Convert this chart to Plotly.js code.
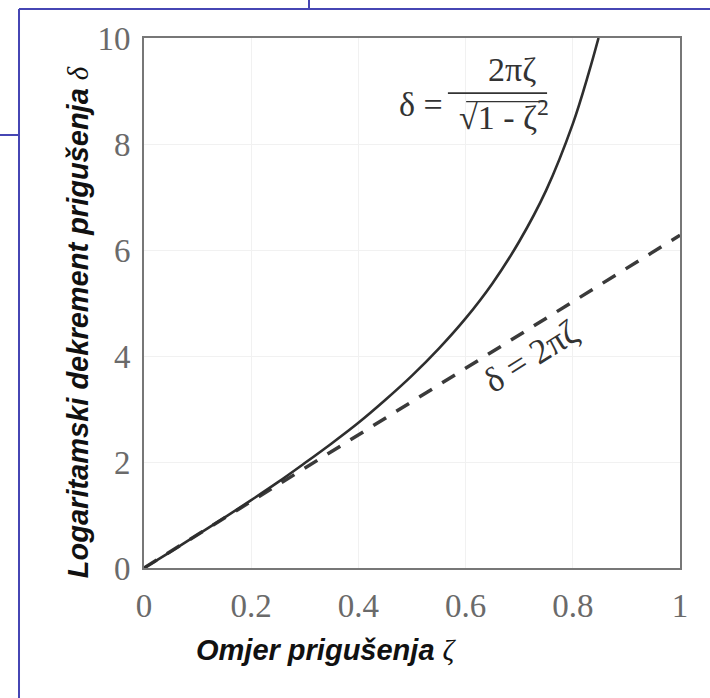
<!DOCTYPE html>
<html>
<head>
<meta charset="utf-8">
<script src="https://cdn.plot.ly/plotly-3.0.1.min.js"></script>
<style>html,body{margin:0;padding:0;background:#fff;}#chart{width:710px;height:698px;}</style>
</head>
<body>
<div id="chart"></div>
<script>
// Values
const zetaSolid  = [0, 0.05, 0.1, 0.15, 0.2, 0.25, 0.3, 0.35, 0.4, 0.45, 0.5, 0.55, 0.6, 0.65, 0.7, 0.75, 0.8, 0.83, 0.848];
const deltaSolid = [0, 0.31, 0.63, 0.95, 1.28, 1.62, 1.98, 2.35, 2.74, 3.17, 3.63, 4.14, 4.71, 5.37, 6.16, 7.12, 8.38, 9.35, 10.0];
const zetaDashed  = [0, 1];
const deltaDashed = [0, 6.28];
const xTickVals = [0, 0.2, 0.4, 0.6, 0.8, 1];
const xTickText = ["0", "0.2", "0.4", "0.6", "0.8", "1"];
const yTickVals = [0, 2, 4, 6, 8, 10];
const yTickText = ["0", "2", "4", "6", "8", "10"];

const serif = "'Liberation Serif', 'Times New Roman', serif";
const sans = "'Liberation Sans', Arial, sans-serif";

const traces = [
  {x: zetaDashed, y: deltaDashed, mode: 'lines', type: 'scatter',
   line: {color: '#3a3a3a', width: 3.5, dash: '15px,12px'}, hoverinfo: 'skip'},
  {x: zetaSolid, y: deltaSolid, mode: 'lines', type: 'scatter',
   line: {color: '#2e2e2e', width: 2.6, shape: 'spline'}, hoverinfo: 'skip'}
];

const blue = '#4646b4';
const layout = {
  width: 710, height: 698,
  margin: {l: 144, r: 30, t: 38, b: 130},
  paper_bgcolor: '#ffffff', plot_bgcolor: '#ffffff',
  showlegend: false,
  xaxis: {range: [0, 1], tickvals: xTickVals, ticktext: xTickText,
    showline: true, mirror: true, linecolor: '#777777', linewidth: 2,
    showgrid: true, gridcolor: '#f1f1f1', gridwidth: 1, zeroline: false,
    ticks: '', ticklabelstandoff: 7,
    tickfont: {family: serif, size: 33, color: '#6a6a6a'}},
  yaxis: {range: [0, 10], tickvals: yTickVals, ticktext: yTickText,
    showline: true, mirror: true, linecolor: '#777777', linewidth: 2,
    showgrid: true, gridcolor: '#f1f1f1', gridwidth: 1, zeroline: false,
    ticks: '', ticklabelstandoff: 5,
    tickfont: {family: serif, size: 33, color: '#6a6a6a'}},
  annotations: [
    {xref: 'paper', yref: 'paper', x: -0.123, y: 0.464, xanchor: 'center', yanchor: 'middle',
     textangle: -90, showarrow: false,
     text: "<b><i>Logaritamski dekrement prigušenja </i></b><span style=\"font-family:'Liberation Serif';font-style:italic\">δ</span>",
     font: {family: sans, size: 29, color: '#111111'}},
    {xref: 'paper', yref: 'paper', x: 0.34, y: -0.155, xanchor: 'center', yanchor: 'middle',
     showarrow: false,
     text: "<b><i>Omjer prigušenja </i></b><span style=\"font-family:'Liberation Serif';font-style:italic\">ζ</span>",
     font: {family: sans, size: 29, color: '#111111'}},
    {x: 0.517, y: 8.74, showarrow: false, text: 'δ =',
     font: {family: serif, size: 34, color: '#333333'}},
    {x: 0.687, y: 9.40, showarrow: false, text: '2πζ',
     font: {family: serif, size: 34, color: '#333333'}},
    {x: 0.672, y: 8.55, showarrow: false, text: '√1 - ζ<sup>2</sup>',
     font: {family: serif, size: 34, color: '#333333'}},
    {x: 0.722, y: 4.0, showarrow: false, text: 'δ = 2πζ', textangle: -32,
     font: {family: serif, size: 35, color: '#333333'}}
  ],
  shapes: [
    // fraction bar
    {type: 'line', xref: 'x', yref: 'y', x0: 0.567, x1: 0.752, y0: 8.96, y1: 8.96,
     line: {color: '#333333', width: 1.6}},
    // radical overline
    {type: 'line', xref: 'x', yref: 'y', x0: 0.601, x1: 0.750, y0: 8.80, y1: 8.80,
     line: {color: '#333333', width: 1.4}},
    // slide border lines
    {type: 'line', xref: 'paper', yref: 'paper', x0: -0.2332, x1: 1.06, y0: 1.0547, y1: 1.0547,
     line: {color: blue, width: 2}},
    {type: 'line', xref: 'paper', yref: 'paper', x0: -0.2332, x1: -0.2332, y0: 1.0547, y1: -0.25,
     line: {color: blue, width: 2}},
    {type: 'line', xref: 'paper', yref: 'paper', x0: -0.27, x1: -0.2332, y0: 0.817, y1: 0.817,
     line: {color: blue, width: 2}},
    {type: 'line', xref: 'paper', yref: 'paper', x0: 0.3078, x1: 0.3078, y0: 1.075, y1: 1.0547,
     line: {color: blue, width: 2}}
  ]
};

Plotly.newPlot('chart', traces, layout, {staticPlot: true, displayModeBar: false});
</script>
</body>
</html>
